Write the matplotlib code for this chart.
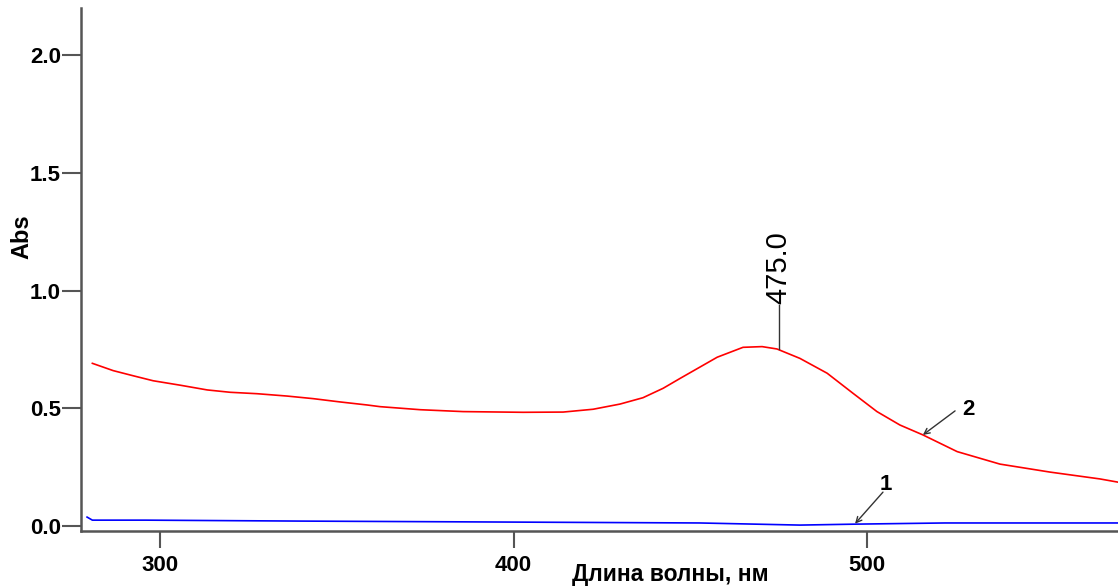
import matplotlib
matplotlib.use("Agg")
import matplotlib.pyplot as plt

plt.rcParams['font.family'] = ['Liberation Sans', 'DejaVu Sans']

# Absorption spectrum, sample 2
wl_2 = [280.8, 286.7, 292.4, 298.0, 305.7, 313.3, 319.8, 327.4, 335.9, 343.3,
        350.9, 358.6, 362.2, 373.6, 385.7, 402.7, 414.0, 422.5, 430.1, 436.6,
        442.3, 447.1, 449.9, 457.6, 464.9, 470.3, 474.5, 481.0, 488.7, 496.0,
        502.8, 509.3, 515.8, 525.5, 537.6, 551.8, 565.9, 571.5]
abs_2 = [0.691, 0.660, 0.638, 0.617, 0.598, 0.578, 0.568, 0.562, 0.552, 0.541,
         0.527, 0.514, 0.507, 0.494, 0.486, 0.483, 0.484, 0.496, 0.518, 0.545,
         0.585, 0.627, 0.651, 0.717, 0.759, 0.762, 0.752, 0.712, 0.649, 0.564,
         0.486, 0.429, 0.387, 0.316, 0.263, 0.229, 0.200, 0.185]

# Absorption spectrum, sample 1
wl_1 = [279.3, 280.8, 295.8, 339.6, 396.0, 452.6, 481.0, 496.6, 522.0, 572.0]
abs_1 = [0.038, 0.025, 0.025, 0.021, 0.017, 0.013, 0.004, 0.008, 0.013, 0.013]

peak_wl = 475.0
peak_abs = 0.752

fig = plt.figure(figsize=(11.18, 5.86), dpi=100)
ax = fig.add_axes([0.0725, 0.0939, 0.9275, 0.8924])

ax.plot(wl_2, abs_2, color='#ff0000', lw=1.2)
ax.plot(wl_1, abs_1, color='#0000ff', lw=1.2)

ax.set_xlim(277.6, 571.0)
ax.set_ylim(-0.021, 2.20)
ax.set_xticks([300, 400, 500])
ax.set_yticks([0.0, 0.5, 1.0, 1.5, 2.0])
ax.set_yticklabels(['0.0', '0.5', '1.0', '1.5', '2.0'])

for s in ['top', 'right']:
    ax.spines[s].set_visible(False)
for s in ['left', 'bottom']:
    ax.spines[s].set_color('#555555')
    ax.spines[s].set_linewidth(1.8)

ax.tick_params(axis='x', length=12, width=1.5, color='#555555', pad=5,
               labelsize=16)
ax.tick_params(axis='y', length=13.5, width=1.5, color='#555555', pad=1,
               labelsize=16)
for lbl in ax.get_xticklabels() + ax.get_yticklabels():
    lbl.set_fontweight('bold')

ax.set_ylabel('Abs', fontsize=17, fontweight='bold', va='center')
ax.yaxis.set_label_coords(-0.057, 0.562)
ax.set_xlabel('Длина волны, нм', fontsize=16.5, fontweight='bold', va='center')
ax.xaxis.set_label_coords(0.568, -0.083)

# Peak marker
ax.plot([peak_wl, peak_wl], [peak_abs, 0.939], color='#333333', lw=1.0)
ax.text(peak_wl, 0.942, f'{peak_wl:.1f}', rotation=90, ha='center',
        va='bottom', fontsize=21)

# Curve labels with arrows
ax.annotate('', xy=(515.8, 0.387), xytext=(524.9, 0.489),
            arrowprops=dict(arrowstyle='->', color='#333333', lw=1.0,
                            shrinkA=0, shrinkB=0))
ax.text(528.6, 0.496, '2', fontsize=16, fontweight='bold',
        ha='center', va='center')
ax.annotate('', xy=(496.6, 0.010), xytext=(504.5, 0.144),
            arrowprops=dict(arrowstyle='->', color='#333333', lw=1.0,
                            shrinkA=0, shrinkB=0))
ax.text(505.2, 0.175, '1', fontsize=16, fontweight='bold',
        ha='center', va='center')

fig.savefig('out.png', dpi=100)
